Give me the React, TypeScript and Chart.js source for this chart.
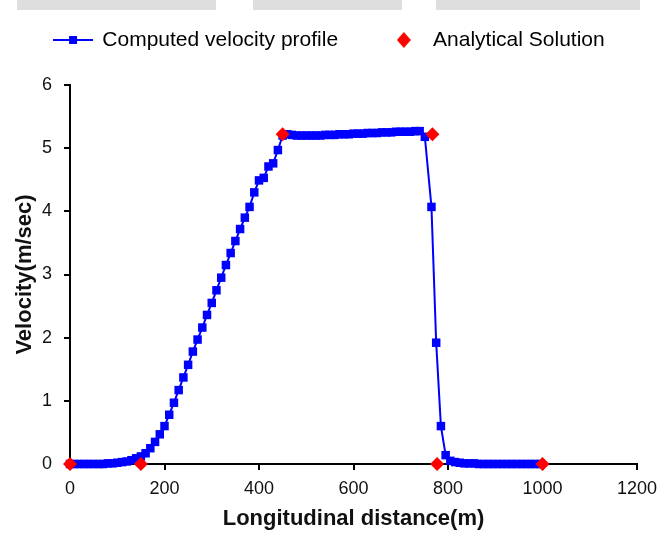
import React, { useEffect, useRef } from "react";
import { Chart, registerables } from "chart.js";

Chart.register(...registerables);

// Computed velocity profile: distance (m) and velocity (m/sec)
const computedX = [
  0, 10, 20, 30, 40, 50, 60, 70, 80, 90,
  100, 110, 120, 130, 140, 150, 160, 170, 180, 190,
  200, 210, 220, 230, 240, 250, 260, 270, 280, 290,
  300, 310, 320, 330, 340, 350, 360, 370, 380, 390,
  400, 410, 420, 430, 440, 450, 460, 470, 480, 490,
  500, 510, 520, 530, 540, 550, 560, 570, 580, 590,
  600, 610, 620, 630, 640, 650, 660, 670, 680, 690,
  700, 710, 720, 730, 740, 751,
  765, 775, 785, 795, 805, 815, 825, 835, 845, 855,
  865, 875, 885, 895, 905, 915, 925, 935, 945, 955,
  965, 975, 985, 995,
];
const computedV = [
  0, 0, 0, 0, 0, 0, 0, 0, 0.01, 0.01,
  0.02, 0.03, 0.04, 0.06, 0.09, 0.12, 0.17, 0.25, 0.35, 0.47,
  0.6, 0.78, 0.97, 1.17, 1.37, 1.57, 1.78, 1.97, 2.16, 2.36,
  2.55, 2.75, 2.95, 3.15, 3.34, 3.53, 3.72, 3.9, 4.07, 4.3,
  4.49, 4.53, 4.71, 4.76, 4.97, 5.2, 5.22, 5.21, 5.2, 5.2,
  5.2, 5.2, 5.2, 5.2, 5.21, 5.21, 5.21, 5.22, 5.22, 5.22,
  5.23, 5.23, 5.23, 5.24, 5.24, 5.24, 5.25, 5.25, 5.25, 5.26,
  5.26, 5.26, 5.26, 5.27, 5.27, 5.18,
  4.07, 1.92, 0.6, 0.14, 0.05, 0.03, 0.02, 0.01, 0.01, 0.01,
  0, 0, 0, 0, 0, 0, 0, 0, 0, 0,
  0, 0, 0, 0,
];

// Analytical solution
const analyticalX = [0, 150, 450, 767, 777, 1000];
const analyticalV = [0, 0, 5.22, 5.22, 0, 0];

// Axis ticks
const xMin = 0;
const xMax = 1200;
const xStep = 200;
const yMin = 0;
const yMax = 6;
const yStep = 1;

const seriesNames = ["Computed velocity profile", "Analytical Solution"];
const xTitle = "Longitudinal distance(m)";
const yTitle = "Velocity(m/sec)";

const BLUE = "#0000FF";
const RED = "#FF0000";
const FONT = "'Liberation Sans', Arial, Helvetica, sans-serif";

function makeLineMarker(): HTMLCanvasElement {
  const c = document.createElement("canvas");
  c.width = 40;
  c.height = 10;
  const ctx = c.getContext("2d")!;
  ctx.strokeStyle = BLUE;
  ctx.lineWidth = 2;
  ctx.beginPath();
  ctx.moveTo(0, 5);
  ctx.lineTo(40, 5);
  ctx.stroke();
  ctx.fillStyle = BLUE;
  ctx.fillRect(16, 1, 8, 8);
  return c;
}

function makeDiamond(): HTMLCanvasElement {
  const c = document.createElement("canvas");
  c.width = 14;
  c.height = 16;
  const ctx = c.getContext("2d")!;
  ctx.fillStyle = RED;
  ctx.beginPath();
  ctx.moveTo(7, 0);
  ctx.lineTo(14, 8);
  ctx.lineTo(7, 16);
  ctx.lineTo(0, 8);
  ctx.closePath();
  ctx.fill();
  return c;
}

export default function App() {
  const ref = useRef<HTMLCanvasElement | null>(null);

  useEffect(() => {
    if (!ref.current) return;
    const markers = [makeLineMarker(), makeDiamond()];

    const legendTweak = {
      id: "legendTweak",
      beforeInit(chart: any) {
        const lg = chart.legend;
        if (lg) {
          const orig = lg.fit.bind(lg);
          lg.fit = function () {
            this.maxWidth = 800;
            orig();
            this.height = 85;
          };
        }
      },
      afterLayout(chart: any) {
        const lg = chart.legend;
        if (lg) {
          lg.left = -0.5;
          lg.right = 659.5;
          lg.width = 660;
          lg.top = -17.5;
          lg.bottom = lg.top + 85;
        }
      },
    };

    const chart = new Chart(ref.current, {
      type: "scatter",
      data: {
        datasets: [
          {
            label: seriesNames[0],
            data: computedX.map((x, i) => ({ x, y: computedV[i] })),
            showLine: true,
            borderColor: BLUE,
            backgroundColor: BLUE,
            borderWidth: 2,
            pointStyle: "rect",
            pointRadius: 6,
            pointBorderWidth: 0,
            pointBackgroundColor: BLUE,
            pointHoverRadius: 6,
            clip: false as any,
            order: 1,
          },
          {
            label: seriesNames[1],
            data: analyticalX.map((x, i) => ({ x, y: analyticalV[i] })),
            showLine: false,
            borderColor: RED,
            backgroundColor: RED,
            pointStyle: "rectRot",
            pointRadius: 7,
            pointBorderWidth: 0,
            pointBackgroundColor: RED,
            pointHoverRadius: 7,
            clip: false as any,
            order: 0,
          },
        ],
      },
      options: {
        animation: false,
        responsive: false,
        maintainAspectRatio: false,
        layout: { padding: { left: 0, right: 23, top: 0, bottom: 0 } },
        plugins: {
          tooltip: { enabled: false },
          legend: {
            display: true,
            position: "top",
            align: "center",
            maxWidth: 800,
            labels: {
              usePointStyle: true,
              pointStyleWidth: 37.5,
              padding: 47,
              color: "#000",
              font: { family: FONT, size: 21 },
              generateLabels: (ch: any) => {
                const items = (Chart.defaults.plugins.legend.labels as any).generateLabels(ch);
                items.sort((a: any, b: any) => a.datasetIndex - b.datasetIndex);
                items.forEach((it: any) => {
                  it.pointStyle = markers[it.datasetIndex];
                  it.text = seriesNames[it.datasetIndex];
                });
                return items;
              },
            },
          },
        },
        scales: {
          x: {
            type: "linear",
            min: xMin,
            max: xMax,
            afterFit: (s: any) => {
              s.height = 71;
              s.paddingRight = 0;
              s.paddingLeft = 0;
            },
            ticks: {
              stepSize: xStep,
              color: "#111",
              padding: 8,
              font: { family: FONT, size: 18 },
              callback: (v: any) => String(v),
            },
            grid: {
              drawOnChartArea: false,
              drawTicks: true,
              tickLength: 6,
              color: "#000",
              lineWidth: 2,
            },
            border: { color: "#000", width: 2 },
            title: {
              display: true,
              text: xTitle,
              color: "#111",
              font: { family: FONT, size: 22, weight: "bold" },
              padding: { top: 0, bottom: 3 },
            },
          },
          y: {
            type: "linear",
            min: yMin,
            max: yMax,
            afterFit: (s: any) => {
              s.width = 70;
            },
            ticks: {
              stepSize: yStep,
              color: "#111",
              padding: 12,
              font: { family: FONT, size: 18 },
              callback: (v: any) => String(v),
            },
            grid: {
              drawOnChartArea: false,
              drawTicks: true,
              tickLength: 6,
              color: "#000",
              lineWidth: 2,
            },
            border: { color: "#000", width: 2 },
            title: {
              display: true,
              text: yTitle,
              color: "#111",
              font: { family: FONT, size: 22, weight: "bold" },
              padding: { top: 12, bottom: 0 },
            },
          },
        },
      },
      plugins: [legendTweak],
    });

    return () => chart.destroy();
  }, []);

  const bar = (left: number, width: number): React.CSSProperties => ({
    position: "absolute",
    left,
    top: 0,
    width,
    height: 10,
    background: "#dedede",
  });

  return (
    <div style={{ position: "absolute", left: 0, top: 0, width: 660, height: 535, background: "#fff" }}>
      <div style={bar(17, 199)} />
      <div style={bar(253, 149)} />
      <div style={bar(436, 204)} />
      <canvas ref={ref} width={660} height={535} style={{ display: "block", width: 660, height: 535 }} />
    </div>
  );
}
